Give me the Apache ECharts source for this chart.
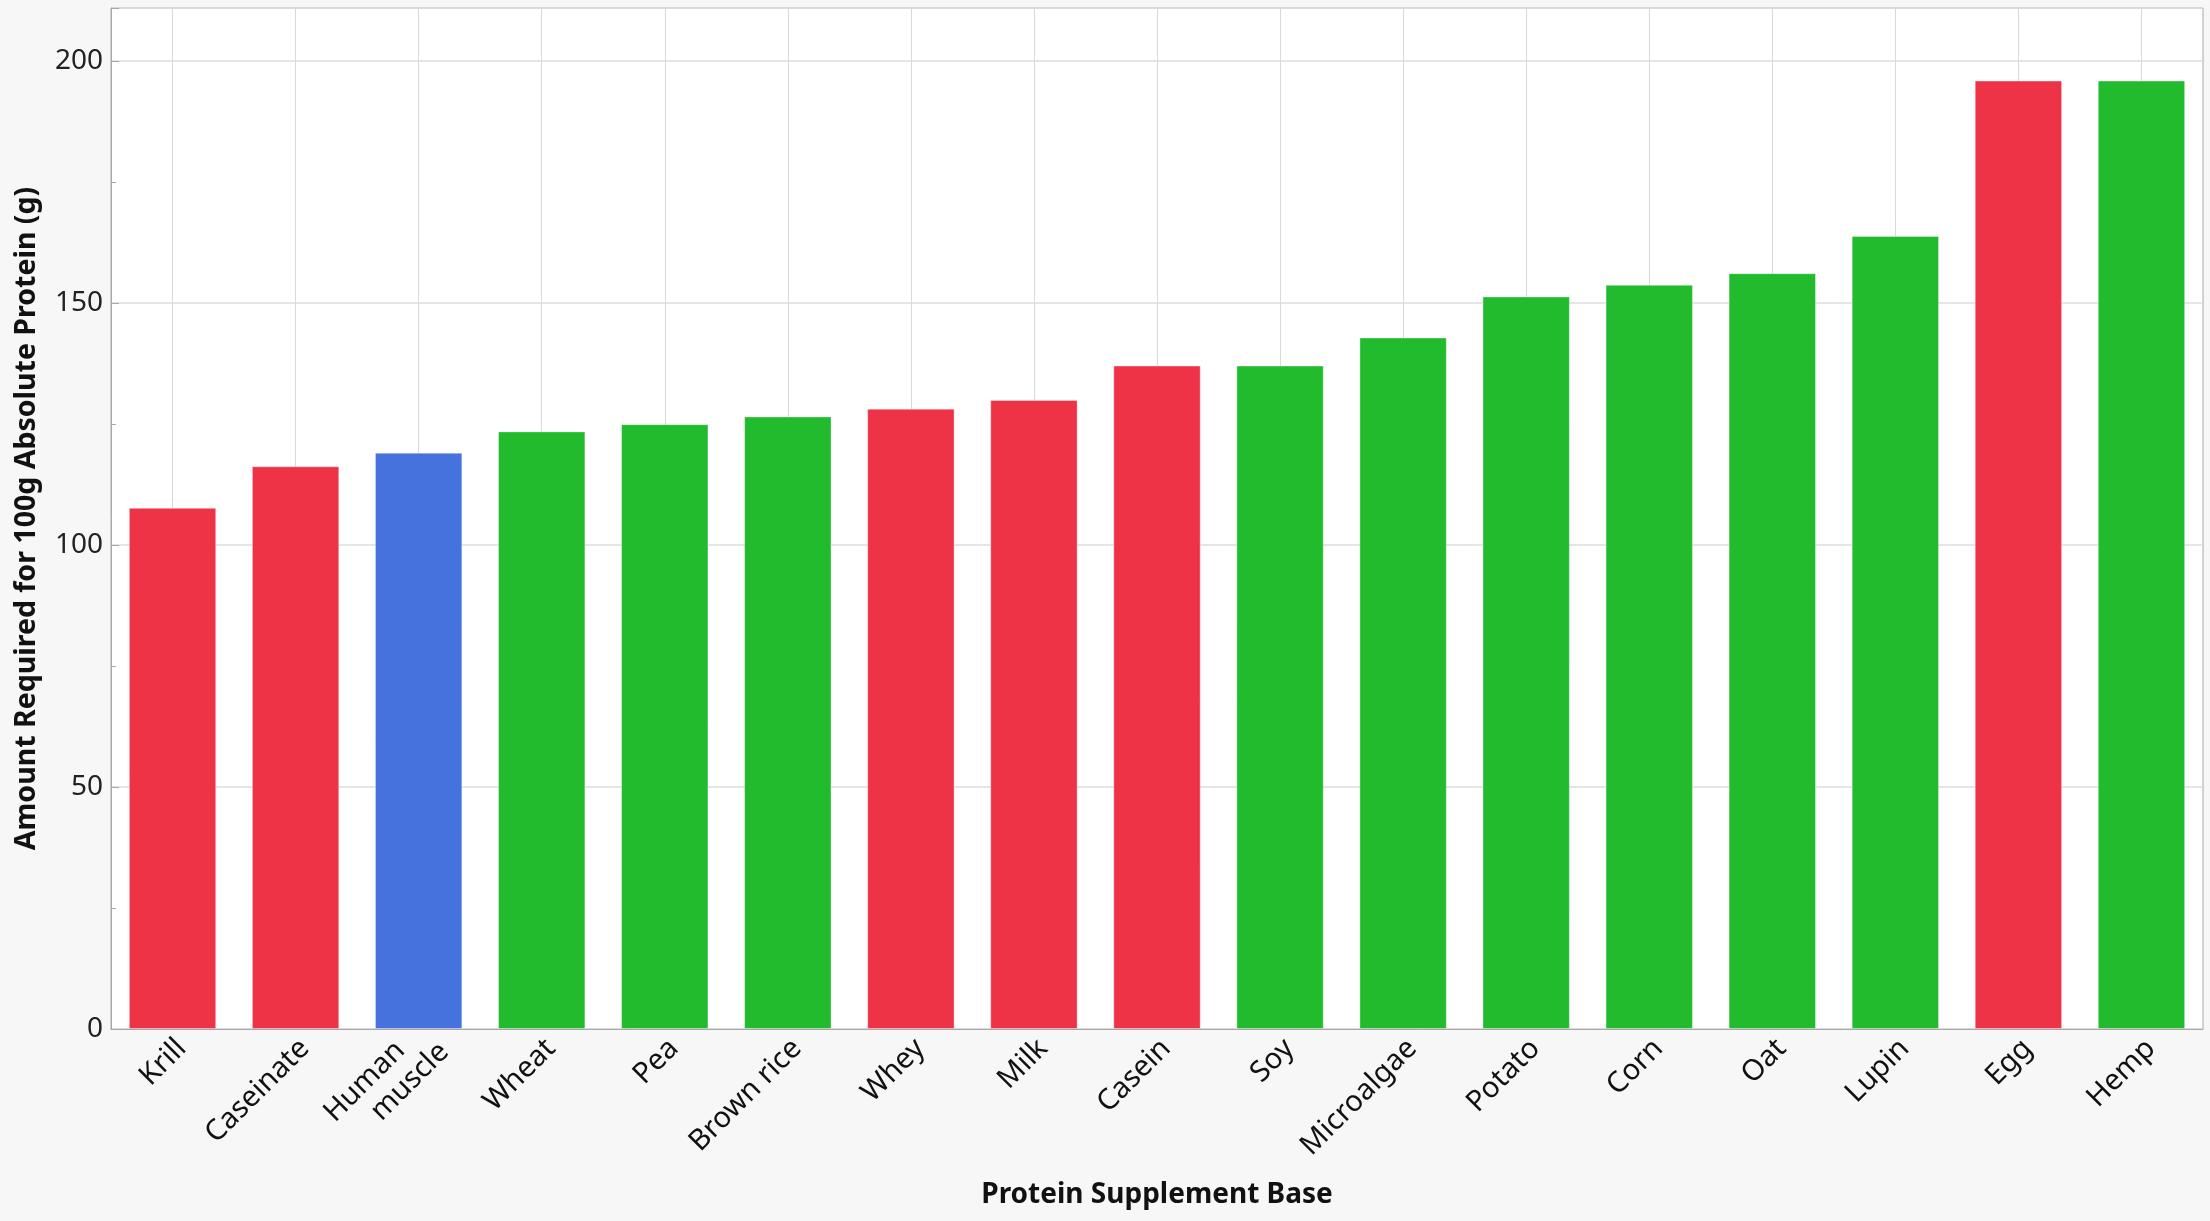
<!DOCTYPE html>
<html>
<head>
<meta charset="utf-8">
<script src="https://cdn.jsdelivr.net/npm/echarts@6/dist/echarts.min.js"></script>
<style>html,body{margin:0;padding:0;background:#f7f7f7;}#c{width:2210px;height:1221px;}</style>
</head>
<body>
<div id="c"></div>
<script>
const categories = ['Krill','Caseinate','Human\nmuscle','Wheat','Pea','Brown rice','Whey','Milk','Casein','Soy','Microalgae','Potato','Corn','Oat','Lupin','Egg','Hemp'];
const values = [107.7,116.3,119.1,123.5,125.0,126.6,128.2,130.0,137.1,137.1,142.9,151.4,153.8,156.2,163.9,196.0,196.0];
const groups = ['Animal','Animal','Human','Plant','Plant','Plant','Animal','Animal','Animal','Plant','Plant','Plant','Plant','Plant','Plant','Animal','Plant'];
const yTicks = [0,50,100,150,200];

const groupColor = {Animal:'#EF3346', Plant:'#22BB2E', Human:'#4572DC'};
const FONT = 'Noto Sans';
const LBL = 29;

const xData = categories.map(function(c){
  return c.indexOf('\n')>=0 ? {value:c, textStyle:{padding:[40,0,0,0]}} : c;
});

const chart = echarts.init(document.getElementById('c'));
chart.setOption({
  backgroundColor:'#f7f7f7',
  animation:false,
  grid:{left:111,right:7,top:8,bottom:192,show:true,backgroundColor:'#ffffff',borderColor:'#a8a8a8',borderWidth:1},
  xAxis:{
    type:'category',
    data:xData,
    name:'Protein Supplement Base',
    nameLocation:'middle',
    nameGap:152,
    nameTextStyle:{fontFamily:FONT,fontSize:28,fontWeight:'bold',color:'#111'},
    axisLine:{show:true,lineStyle:{color:'#a8a8a8',width:1}},
    axisTick:{show:false},
    axisLabel:{interval:0,rotate:45,margin:-7,padding:[44,9,0,0],fontFamily:FONT,fontSize:LBL,color:'#111',lineHeight:34,
      formatter:function(v){
        const parts = v.split('\n');
        if(parts.length===2){return '{l1|'+parts[0]+'}\n{l2|'+parts[1]+'}';}
        return v;
      },
      rich:{
        l1:{fontFamily:FONT,fontSize:LBL,color:'#111',lineHeight:32,padding:[0,30,0,0]},
        l2:{fontFamily:FONT,fontSize:LBL,color:'#111',lineHeight:32}
      }
    },
    splitLine:{show:true,alignWithLabel:true,lineStyle:{color:'#d9d9d9',width:1}}
  },
  yAxis:{
    type:'value',
    min:0,max:211,interval:50,
    name:'Amount Required for 100g Absolute Protein (g)',
    nameLocation:'middle',
    nameGap:70,
    nameTextStyle:{fontFamily:FONT,fontSize:28.5,fontWeight:'bold',color:'#111'},
    axisLine:{show:true,lineStyle:{color:'#a8a8a8'}},
    axisTick:{show:true,inside:true,length:8,lineStyle:{color:'#a8a8a8'}},
    minorTick:{show:true,splitNumber:2,length:5,lineStyle:{color:'#a8a8a8'}},
    axisLabel:{margin:8,fontFamily:FONT,fontSize:28,color:'#222',
      formatter:function(v){return yTicks.indexOf(v)>=0?String(v):'';}},
    splitLine:{show:true,lineStyle:{color:'#dcdcdc',width:1.5}}
  },
  series:[{
    type:'bar',
    data:values.map(function(v,i){return {value:v,itemStyle:{color:groupColor[groups[i]]}};}),
    barCategoryGap:'29%',
    itemStyle:{borderColor:'rgba(255,255,255,0.35)',borderWidth:1}
  }]
});
</script>
</body>
</html>
